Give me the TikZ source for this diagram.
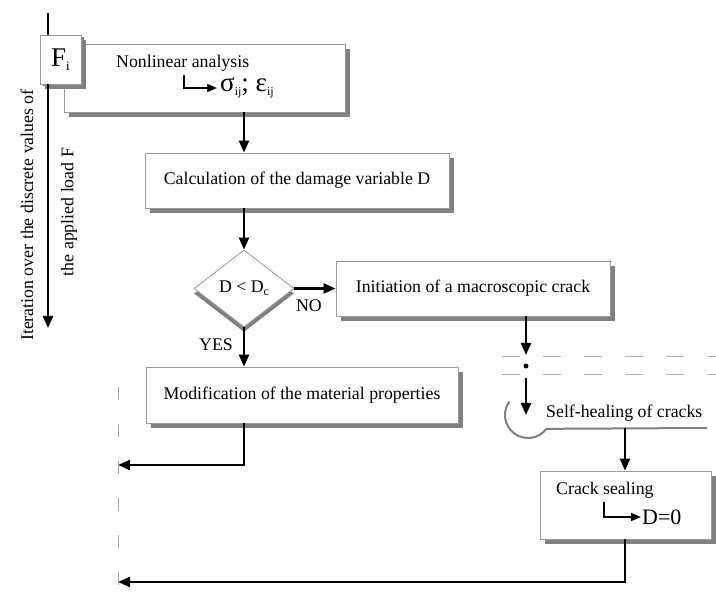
\documentclass[tikz,border=0pt]{standalone}
\usepackage{fontspec}
\setmainfont{Liberation Serif}
\usetikzlibrary{arrows.meta,shapes.geometric,shadows}
\newcommand\mysub[2][12]{\raisebox{-0.35ex}{\fontsize{#1}{#1}\selectfont #2}}
\begin{document}
\begin{tikzpicture}[x=1pt,y=-1pt,
  box/.style={draw=black!40, line width=0.8pt, fill=white, inner sep=0pt,
    drop shadow={shadow xshift=5pt, shadow yshift=-5pt, fill=black!50, opacity=1}},
  flow/.style={line width=2.2pt, -{Triangle[length=12pt,width=10pt]}},
  hook/.style={line width=1.6pt, -{Triangle[length=10pt,width=8pt]}, shorten >=3pt},
  plain/.style={line width=2.2pt},
  txt/.style={font=\fontsize{17.8}{20}\selectfont, inner sep=0pt},
  big/.style={font=\fontsize{27}{27}\selectfont, inner sep=0pt},
  dashv/.style={draw=black!35, line width=1pt, dash pattern=on 13pt off 24pt},
  dashh/.style={draw=black!30, line width=1pt, dash pattern=on 18pt off 23pt},
  heal/.style={draw=black!50, line width=2pt}]

\useasboundingbox (0,0) rectangle (716,604);

% boxes
\node[box, minimum width=281pt, minimum height=68pt] (nl) at (204.5,78) {};
\node[box, big, minimum width=41pt, minimum height=49pt,
  drop shadow={shadow xshift=3pt, shadow yshift=-2pt, fill=black!50, opacity=1}]
  (fi) at (60.5,59.5) {F\mysub[13]{i}};
\node[box, txt, minimum width=304pt, minimum height=55pt] (calc) at (297,180.5)
  {Calculation of the damage variable D};
\node[diamond, draw=black!40, line width=0.8pt, fill=white, inner sep=0pt,
  minimum width=100pt, minimum height=77pt, txt,
  drop shadow={shadow xshift=0pt, shadow yshift=-5pt, fill=black!50, opacity=1}]
  (dec) at (244,288.5) {D < D\mysub{c}};
\node[box, txt, minimum width=274pt, minimum height=55pt] (init) at (473,288.5)
  {Initiation of a macroscopic crack};
\node[box, txt, minimum width=312pt, minimum height=56pt] (mod) at (302,395)
  {Modification of the material properties};
\node[box, minimum width=171pt, minimum height=68pt] (seal) at (625.5,505) {};

% texts inside boxes
\node[txt, anchor=west] (nltext) at (116,63) {Nonlinear analysis};
\node[big, anchor=west] (sig) at (220,88) {σ\mysub{ij}; ε\mysub{ij}};
\coordinate (nlhook) at (184,75);
\draw[hook] (nlhook) |- (sig.west);

\node[txt, anchor=west] (sealtext) at (556,490) {Crack sealing};
\node[anchor=west, inner sep=0pt, font=\fontsize{22}{22}\selectfont] (dzero) at (642,517) {D=0};
\coordinate (sealhook) at (604,502);
\draw[hook, shorten >=1pt] (sealhook) |- (dzero.west);

% iteration
\coordinate (itop) at (48,13);
\coordinate (iend) at (48,328);
\draw[plain] (itop) -- (fi.north -| itop);
\draw[flow] (fi.south -| iend) -- (iend);
\node[txt, rotate=90] (itl1) at (27,215) {Iteration over the discrete values of};
\node[txt, rotate=90] (itl2) at (69,212) {the applied load F};

% main flow
\draw[flow] (dec |- nl.south) -- (dec |- calc.north);
\draw[flow] (dec |- calc.south) -- (dec.north);
\draw[flow] (dec.east) -- (init.west);
\node[txt] (no) at (309,306) {NO};
\draw[flow] (dec.south) -- (dec |- mod.north);
\node[txt] (yes) at (216,345) {YES};

\coordinate (ret1) at (118,465);
\draw[flow] (dec |- mod.south) |- (ret1);

% right branch
\coordinate (da) at (526,355);
\draw[flow] (init.south -| da) -- (da);
\node[circle, fill=black, inner sep=0pt, minimum size=5pt] (dot) at (526,366) {};
\coordinate (db) at (526,378);
\coordinate (dc) at (526,415);
\draw[flow] (db) -- (dc);
\draw[dashh] (502,357) -- (716,357);
\draw[dashh] (502,375) -- (716,375);

\draw[heal] (528,415) ++(216:23) arc[start angle=216, end angle=37, radius=23] -- (707,428);
\node[txt, anchor=west] (sh) at (546,413) {Self-healing of cracks};
\coordinate (shl) at (625,428);
\draw[flow] (shl) -- (shl |- seal.north);

\coordinate (ret2) at (118,582);
\draw[flow] (shl |- seal.south) |- (ret2);

\draw[dashv] (118,387) -- (118,604);
\end{tikzpicture}
\end{document}
